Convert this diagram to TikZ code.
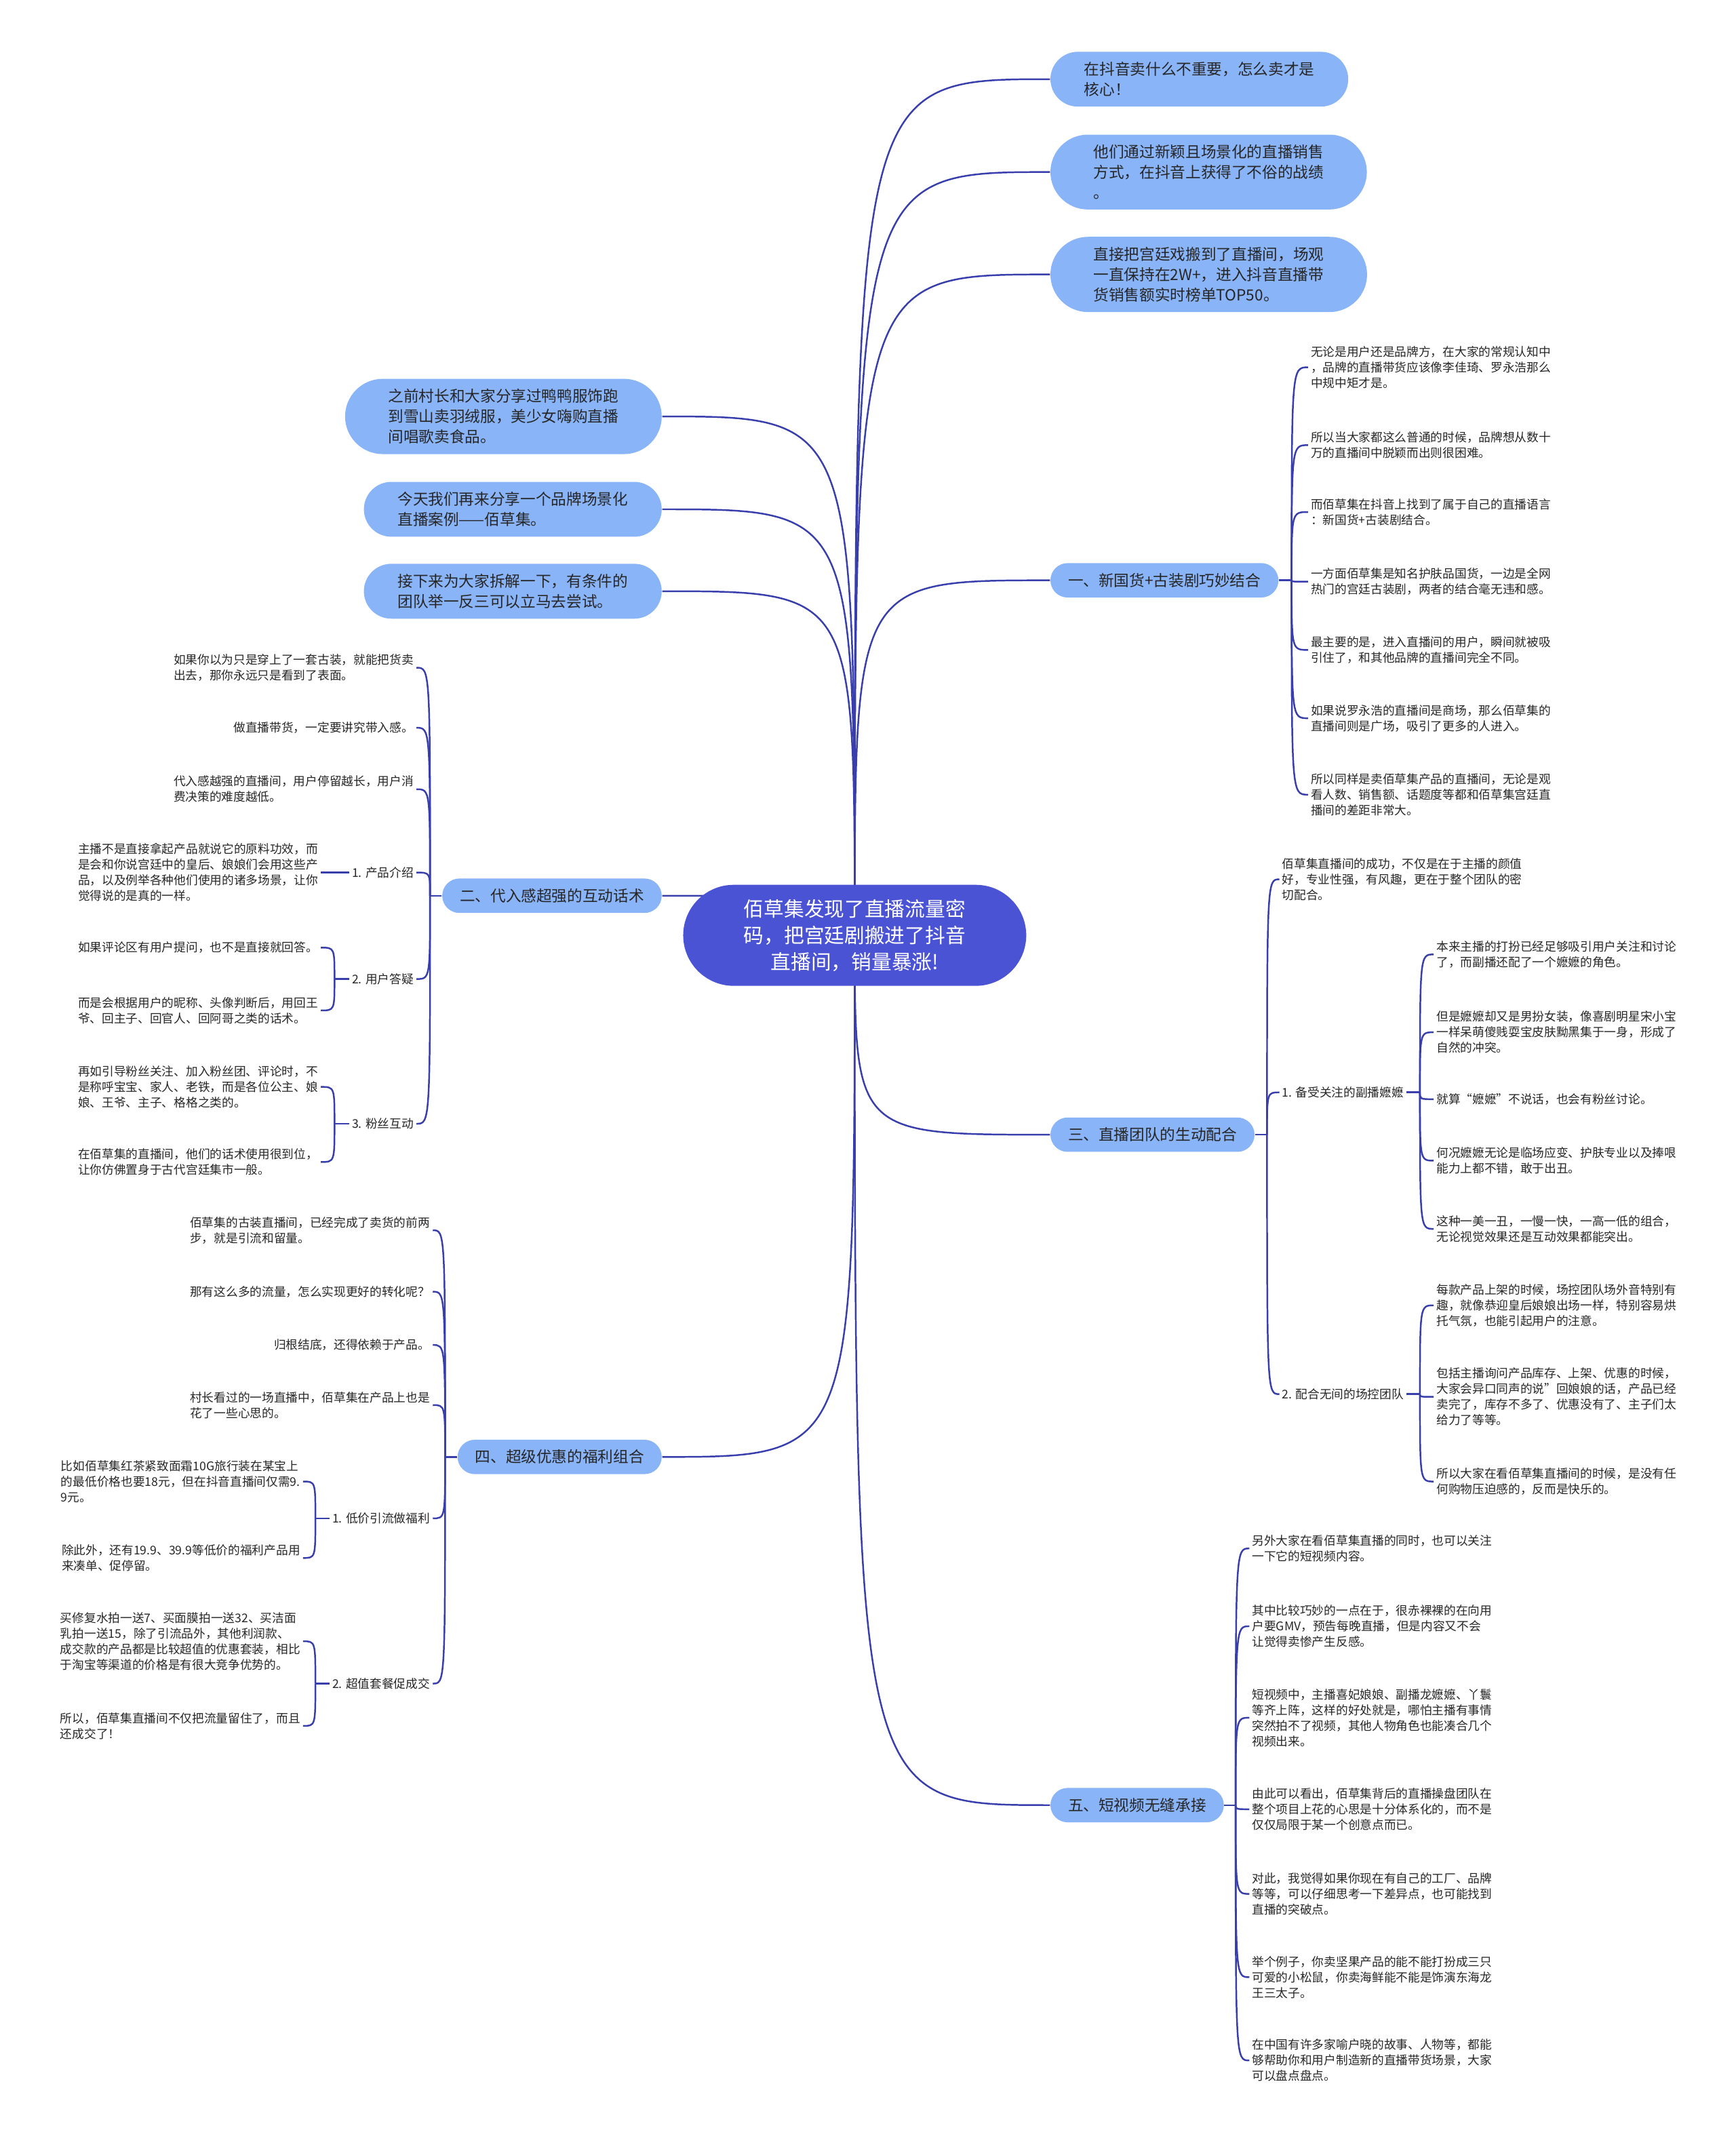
\documentclass[tikz,border=0pt]{standalone}
\usepackage{fontspec}
\setmainfont{Noto Sans CJK SC}
\usetikzlibrary{shapes.misc,backgrounds}

\definecolor{rootblue}{RGB}{75,83,213}
\definecolor{topicblue}{RGB}{138,180,248}
\definecolor{linkblue}{RGB}{56,62,172}
\definecolor{textdark}{RGB}{38,38,38}

\begin{document}
\begin{tikzpicture}[x=0.02cm,y=-0.02cm,
  rootnode/.style={rounded rectangle,fill=rootblue,text=white,align=center,
    font=\fontsize{8.4}{11}\selectfont,inner xsep=19pt,minimum height=1.48cm},
  topic/.style={rounded rectangle,fill=topicblue,text=textdark,align=left,
    font=\fontsize{6.4}{8.5}\selectfont,inner xsep=6.7pt,inner ysep=4.2pt},
  two/.style={inner xsep=11.5pt},
  three/.style={inner xsep=13pt},
  leaf/.style={align=left,text=textdark,font=\fontsize{5}{6.5}\selectfont,inner sep=1pt},
  link/.style={draw=linkblue,line width=0.7pt}]
\useasboundingbox (0,0) rectangle (1271,1568);
%
% Root
\node[rootnode] (root) at (626,685) {佰草集发现了直播流量密\\码，把宫廷剧搬进了抖音\\直播间，销量暴涨!};
%
% Right top
\node[topic,two,anchor=west] (rt1) at (769,58) {在抖音卖什么不重要，怎么卖才是\\核心！};
\node[topic,three,anchor=west] (rt2) at (769,126) {他们通过新颖且场景化的直播销售\\方式，在抖音上获得了不俗的战绩\\。};
\node[topic,three,anchor=west] (rt3) at (769,201) {直接把宫廷戏搬到了直播间，场观\\一直保持在2W+，进入抖音直播带\\货销售额实时榜单TOP50。};
% Left top
\node[topic,three,anchor=east] (lt1) at (485,305) {之前村长和大家分享过鸭鸭服饰跑\\到雪山卖羽绒服，美少女嗨购直播\\间唱歌卖食品。};
\node[topic,two,anchor=east] (lt2) at (485,373) {今天我们再来分享一个品牌场景化\\直播案例——佰草集。};
\node[topic,two,anchor=east] (lt3) at (485,433) {接下来为大家拆解一下，有条件的\\团队举一反三可以立马去尝试。};
%
% Sections
\node[topic,anchor=west] (s1) at (769,425) {一、新国货+古装剧巧妙结合};
\node[topic,anchor=east] (s2) at (485,656) {二、代入感超强的互动话术};
\node[topic,anchor=west] (s3) at (769,831) {三、直播团队的生动配合};
\node[topic,anchor=east] (s4) at (485,1067) {四、超级优惠的福利组合};
\node[topic,anchor=west] (s5) at (769,1322) {五、短视频无缝承接};
%
% Section 1
\node[leaf,anchor=west] (a1) at (958,269) {无论是用户还是品牌方，在大家的常规认知中\\，品牌的直播带货应该像李佳琦、罗永浩那么\\中规中矩才是。};
\node[leaf,anchor=west] (a2) at (958,326) {所以当大家都这么普通的时候，品牌想从数十\\万的直播间中脱颖而出则很困难。};
\node[leaf,anchor=west] (a3) at (958,375) {而佰草集在抖音上找到了属于自己的直播语言\\：新国货+古装剧结合。};
\node[leaf,anchor=west] (a4) at (958,426) {一方面佰草集是知名护肤品国货，一边是全网\\热门的宫廷古装剧，两者的结合毫无违和感。};
\node[leaf,anchor=west] (a5) at (958,476) {最主要的是，进入直播间的用户，瞬间就被吸\\引住了，和其他品牌的直播间完全不同。};
\node[leaf,anchor=west] (a6) at (958,526) {如果说罗永浩的直播间是商场，那么佰草集的\\直播间则是广场，吸引了更多的人进入。};
\node[leaf,anchor=west] (a7) at (958,582) {所以同样是卖佰草集产品的直播间，无论是观\\看人数、销售额、话题度等都和佰草集宫廷直\\播间的差距非常大。};
%
% Section 2
\node[leaf,anchor=east] (f1) at (305,489) {如果你以为只是穿上了一套古装，就能把货卖\\出去，那你永远只是看到了表面。};
\node[leaf,anchor=east] (f2) at (305,533) {做直播带货，一定要讲究带入感。};
\node[leaf,anchor=east] (f3) at (305,578) {代入感越强的直播间，用户停留越长，用户消\\费决策的难度越低。};
\node[leaf,anchor=east] (p1) at (305,639) {1. 产品介绍};
\node[leaf,anchor=east] (p2) at (305,717) {2. 用户答疑};
\node[leaf,anchor=east] (p3) at (305,823) {3. 粉丝互动};
\node[leaf,anchor=east] (q1) at (235,639) {主播不是直接拿起产品就说它的原料功效，而\\是会和你说宫廷中的皇后、娘娘们会用这些产\\品，以及例举各种他们使用的诸多场景，让你\\觉得说的是真的一样。};
\node[leaf,anchor=east] (g1) at (235,694) {如果评论区有用户提问，也不是直接就回答。};
\node[leaf,anchor=east] (g2) at (235,740) {而是会根据用户的昵称、头像判断后，用回王\\爷、回主子、回官人、回阿哥之类的话术。};
\node[leaf,anchor=east] (m1) at (235,796) {再如引导粉丝关注、加入粉丝团、评论时，不\\是称呼宝宝、家人、老铁，而是各位公主、娘\\娘、王爷、主子、格格之类的。};
\node[leaf,anchor=east] (m2) at (235,851) {在佰草集的直播间，他们的话术使用很到位，\\让你仿佛置身于古代宫廷集市一般。};
%
% Section 3
\node[leaf,anchor=west] (b0) at (937,644) {佰草集直播间的成功，不仅是在于主播的颜值\\好，专业性强，有风趣，更在于整个团队的密\\切配合。};
\node[leaf,anchor=west] (b1) at (937,800) {1. 备受关注的副播嬷嬷};
\node[leaf,anchor=west] (b2) at (937,1021) {2. 配合无间的场控团队};
\node[leaf,anchor=west] (c1) at (1050,699) {本来主播的打扮已经足够吸引用户关注和讨论\\了，而副播还配了一个嬷嬷的角色。};
\node[leaf,anchor=west] (c2) at (1050,756) {但是嬷嬷却又是男扮女装，像喜剧明星宋小宝\\一样呆萌傻贱耍宝皮肤黝黑集于一身，形成了\\自然的冲突。};
\node[leaf,anchor=west] (c3) at (1050,805) {就算“嬷嬷”不说话，也会有粉丝讨论。};
\node[leaf,anchor=west] (c4) at (1050,850) {何况嬷嬷无论是临场应变、护肤专业以及捧哏\\能力上都不错，敢于出丑。};
\node[leaf,anchor=west] (c5) at (1050,900) {这种一美一丑，一慢一快，一高一低的组合，\\无论视觉效果还是互动效果都能突出。};
\node[leaf,anchor=west] (d1) at (1050,956) {每款产品上架的时候，场控团队场外音特别有\\趣，就像恭迎皇后娘娘出场一样，特别容易烘\\托气氛，也能引起用户的注意。};
\node[leaf,anchor=west] (d2) at (1050,1023) {包括主播询问产品库存、上架、优惠的时候，\\大家会异口同声的说”回娘娘的话，产品已经\\卖完了，库存不多了、优惠没有了、主子们太\\给力了等等。};
\node[leaf,anchor=west] (d3) at (1050,1085) {所以大家在看佰草集直播间的时候，是没有任\\何购物压迫感的，反而是快乐的。};
%
% Section 4
\node[leaf,anchor=east] (i1) at (317,901) {佰草集的古装直播间，已经完成了卖货的前两\\步，就是引流和留量。};
\node[leaf,anchor=east] (i2) at (317,946) {那有这么多的流量，怎么实现更好的转化呢？};
\node[leaf,anchor=east] (i3) at (317,985) {归根结底，还得依赖于产品。};
\node[leaf,anchor=east] (i4) at (317,1029) {村长看过的一场直播中，佰草集在产品上也是\\花了一些心思的。};
\node[leaf,anchor=east] (u1) at (317,1112) {1. 低价引流做福利};
\node[leaf,anchor=east] (u2) at (317,1233) {2. 超值套餐促成交};
\node[leaf,anchor=east] (v1) at (222,1085) {比如佰草集红茶紧致面霜10G旅行装在某宝上\\的最低价格也要18元，但在抖音直播间仅需9.\\9元。};
\node[leaf,anchor=east] (v2) at (222,1141) {除此外，还有19.9、39.9等低价的福利产品用\\来凑单、促停留。};
\node[leaf,anchor=east] (w1) at (222,1202) {买修复水拍一送7、买面膜拍一送32、买洁面\\乳拍一送15，除了引流品外，其他利润款、\\成交款的产品都是比较超值的优惠套装，相比\\于淘宝等渠道的价格是有很大竞争优势的。};
\node[leaf,anchor=east] (w2) at (222,1264) {所以，佰草集直播间不仅把流量留住了，而且\\还成交了！};
%
% Section 5
\node[leaf,anchor=west] (e1) at (915,1134) {另外大家在看佰草集直播的同时，也可以关注\\一下它的短视频内容。};
\node[leaf,anchor=west] (e2) at (915,1191) {其中比较巧妙的一点在于，很赤裸裸的在向用\\户要GMV，预告每晚直播，但是内容又不会\\让觉得卖惨产生反感。};
\node[leaf,anchor=west] (e3) at (915,1258) {短视频中，主播喜妃娘娘、副播龙嬷嬷、丫鬟\\等齐上阵，这样的好处就是，哪怕主播有事情\\突然拍不了视频，其他人物角色也能凑合几个\\视频出来。};
\node[leaf,anchor=west] (e4) at (915,1325) {由此可以看出，佰草集背后的直播操盘团队在\\整个项目上花的心思是十分体系化的，而不是\\仅仅局限于某一个创意点而已。};
\node[leaf,anchor=west] (e5) at (915,1387) {对此，我觉得如果你现在有自己的工厂、品牌\\等等，可以仔细思考一下差异点，也可能找到\\直播的突破点。};
\node[leaf,anchor=west] (e6) at (915,1448) {举个例子，你卖坚果产品的能不能打扮成三只\\可爱的小松鼠，你卖海鲜能不能是饰演东海龙\\王三太子。};
\node[leaf,anchor=west] (e7) at (915,1509) {在中国有许多家喻户晓的故事、人物等，都能\\够帮助你和用户制造新的直播带货场景，大家\\可以盘点盘点。};
%
% Hubs
\coordinate (h1) at (946,425);
\coordinate (h2) at (315,656);
\coordinate (h3) at (928,831);
\coordinate (h4) at (326,1067);
\coordinate (h5) at (905,1322);
\coordinate (hp2) at (245,717);
\coordinate (hp3) at (245,823);
\coordinate (hb1) at (1040,800);
\coordinate (hb2) at (1040,1021);
\coordinate (hu1) at (231,1112);
\coordinate (hu2) at (231,1233);
%
% Connectors
\begin{scope}[on background layer]
\foreach \n in {rt1,rt2,rt3,s1,s3,s5}
  \draw[link] (root.center) .. controls (root.center |- \n.west) .. (\n.west);
\foreach \n in {lt1,lt2,lt3,s2,s4}
  \draw[link] (root.center) .. controls (root.center |- \n.east) .. (\n.east);
\end{scope}
% right side
\draw[link] (s1.east) -- (h1);
\foreach \i in {1,...,7}
  \draw[link] (h1) .. controls (h1 |- a\i.west) .. (a\i.west);
\draw[link] (s3.east) -- (h3);
\foreach \n in {b0,b1,b2}
  \draw[link] (h3) .. controls (h3 |- \n.west) .. (\n.west);
\draw[link] (b1.east) -- (hb1);
\foreach \i in {1,...,5}
  \draw[link] (hb1) .. controls (hb1 |- c\i.west) .. (c\i.west);
\draw[link] (b2.east) -- (hb2);
\foreach \i in {1,2,3}
  \draw[link] (hb2) .. controls (hb2 |- d\i.west) .. (d\i.west);
\draw[link] (s5.east) -- (h5);
\foreach \i in {1,...,7}
  \draw[link] (h5) .. controls (h5 |- e\i.west) .. (e\i.west);
% left side
\draw[link] (s2.west) -- (h2);
\foreach \n in {f1,f2,f3,p1,p2,p3}
  \draw[link] (h2) .. controls (h2 |- \n.east) .. (\n.east);
\draw[link] (p1.west) -- (q1.east);
\draw[link] (p2.west) -- (hp2);
\foreach \n in {g1,g2}
  \draw[link] (hp2) .. controls (hp2 |- \n.east) .. (\n.east);
\draw[link] (p3.west) -- (hp3);
\foreach \n in {m1,m2}
  \draw[link] (hp3) .. controls (hp3 |- \n.east) .. (\n.east);
\draw[link] (s4.west) -- (h4);
\foreach \n in {i1,i2,i3,i4,u1,u2}
  \draw[link] (h4) .. controls (h4 |- \n.east) .. (\n.east);
\draw[link] (u1.west) -- (hu1);
\foreach \n in {v1,v2}
  \draw[link] (hu1) .. controls (hu1 |- \n.east) .. (\n.east);
\draw[link] (u2.west) -- (hu2);
\foreach \n in {w1,w2}
  \draw[link] (hu2) .. controls (hu2 |- \n.east) .. (\n.east);
\end{tikzpicture}
\end{document}
